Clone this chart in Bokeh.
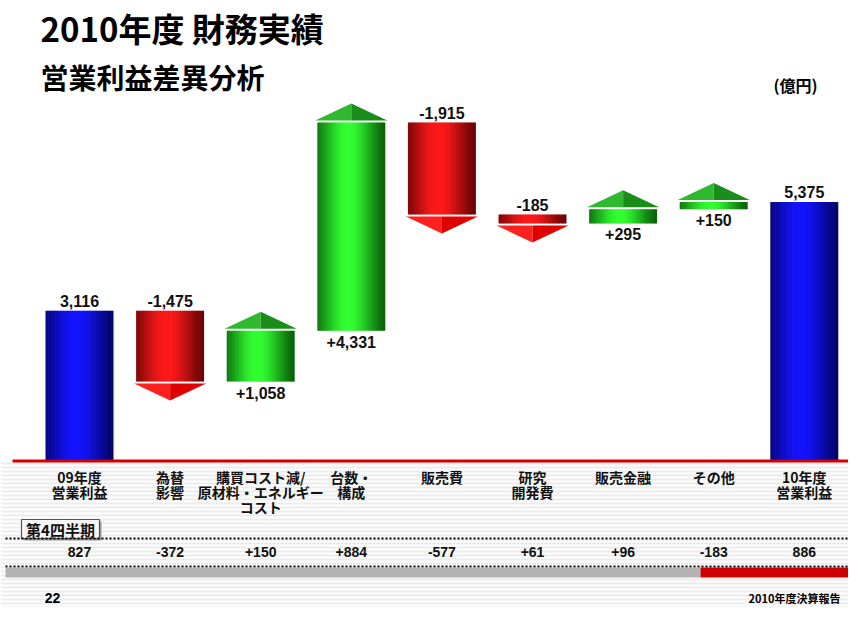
import math
from bokeh.plotting import figure
from bokeh.models import Range1d
from bokeh.core.properties import value
from bokeh.embed import file_html
from bokeh.resources import INLINE

# ---------------- data ----------------
title_text = "2010年度 財務実績"
subtitle_text = "営業利益差異分析"
unit_text = "(億円)"
categories = ["09年度\n営業利益", "為替\n影響", "購買コスト減/\n原材料・エネルギー\nコスト",
              "台数・\n構成", "販売費", "研究\n開発費", "販売金融", "その他", "10年度\n営業利益"]
values = [3116, -1475, 1058, 4331, -1915, -185, 295, 150, 5375]
is_total = [True, False, False, False, False, False, False, False, True]
quarter_label = "第4四半期"
quarter_values = [827, -372, 150, 884, -577, 61, 96, -183, 886]
page_number = "22"
footer_text = "2010年度決算報告"

# ---------------- geometry helpers ----------------
W, H = 848, 607
PX = 20.8          # data units per pixel (vertical)
BASE_Y = 460       # baseline position in pixels
CX0, DX = 79, 90.6 # first category centre / spacing in pixels


def xd(ix):
    return (ix - CX0) / DX


def yd(iy):
    return (BASE_Y - iy) * PX


CJK = value("Noto Sans CJK JP")
LAT = value("Liberation Sans")

p = figure(width=W, height=H, x_range=Range1d(xd(0), xd(W)),
           y_range=Range1d(yd(H), yd(0)), output_backend="svg",
           toolbar_location=None, min_border=0, x_axis_type=None, y_axis_type=None,
           outline_line_color=None, background_fill_color="white",
           border_fill_color="white")
p.grid.visible = False

# striped lower background
stripe_y = [yd(iy) for iy in range(463, H + 2, 4)]
p.segment(x0=[xd(0)] * len(stripe_y), x1=[xd(W)] * len(stripe_y),
          y0=stripe_y, y1=stripe_y, line_color="#ececec", line_width=2)

# ---------------- waterfall geometry from data ----------------
starts, ends = [], []
running = 0
for v, tot in zip(values, is_total):
    if tot:
        starts.append(0)
        ends.append(v)
        running = v
    else:
        starts.append(running)
        running = running + v
        ends.append(running)

bw = 68 / DX
NSTRIP = 28

PALETTES = {
    "total": ((0, 0, 70), (20, 20, 255)),
    "neg": ((70, 0, 0), (255, 25, 25)),
    "pos": ((0, 60, 0), (50, 255, 50)),
}


def grad_color(kind, t):
    dark, bright = PALETTES[kind]
    f = math.exp(-((t - 0.45) / 0.42) ** 2)
    c = [int(d + (b - d) * f) for d, b in zip(dark, bright)]
    return "#%02x%02x%02x" % tuple(c)


L, R, B, T, C = [], [], [], [], []
kinds = []
for i, (s, e, tot) in enumerate(zip(starts, ends, is_total)):
    kind = "total" if tot else ("pos" if e >= s else "neg")
    kinds.append(kind)
    lo, hi = min(s, e), max(s, e)
    left = i - bw / 2
    sw = bw / NSTRIP
    for k in range(NSTRIP):
        L.append(left + k * sw)
        R.append(left + (k + 1) * sw + (sw * 0.3 if k < NSTRIP - 1 else 0))
        B.append(lo)
        T.append(hi)
        C.append(grad_color(kind, (k + 0.5) / NSTRIP))
p.quad(left=L, right=R, bottom=B, top=T, fill_color=C, line_color=None)

# arrow heads
gap = 2 * PX
ah = 17 * PX
hw = bw / 2 + 2 / DX
xs, ys, fc = [], [], []
for i, (s, e, kind) in enumerate(zip(starts, ends, kinds)):
    if kind == "total":
        continue
    if kind == "neg":
        yb = e - gap
        yt = yb - ah
        cols = ("#ff2020", "#e00000")
    else:
        yb = e + gap
        yt = yb + ah
        cols = ("#30b830", "#1a8c1a")
    xs.append([i - hw, i, i]); ys.append([yb, yb, yt]); fc.append(cols[0])
    xs.append([i, i + hw, i]); ys.append([yb, yb, yt]); fc.append(cols[1])
p.patches(xs=xs, ys=ys, fill_color=fc, line_color=None)

# baseline
p.segment(x0=[xd(12)], x1=[xd(W)], y0=[yd(460.5)], y1=[yd(460.5)],
          line_color="#d40000", line_width=3)

# value labels
up_x, up_y, up_t, dn_x, dn_y, dn_t = [], [], [], [], [], []
for i, (v, s, e, tot) in enumerate(zip(values, starts, ends, is_total)):
    if tot:
        up_x.append(i); up_y.append(e + 4 * PX); up_t.append(f"{v:,}")
    elif v < 0:
        up_x.append(i); up_y.append(s + 4 * PX); up_t.append(f"{v:+,}")
    else:
        dn_x.append(i); dn_y.append(s - 5 * PX); dn_t.append(f"{v:+,}")
p.text(x=up_x, y=up_y, text=up_t, text_font=LAT, text_font_style="bold",
       text_font_size="16px", text_align="center", text_baseline="bottom",
       text_color="#111111")
p.text(x=dn_x, y=dn_y, text=dn_t, text_font=LAT, text_font_style="bold",
       text_font_size="16px", text_align="center", text_baseline="top",
       text_color="#111111")

# category labels
idx = list(range(len(categories)))
p.text(x=idx, y=[yd(466)] * len(idx), text=categories, text_font=CJK,
       text_font_style="bold", text_font_size="14px", text_align="center",
       text_baseline="top", text_line_height=0.76, text_color="#111111")

# quarter box
p.quad(left=[xd(23)], right=[xd(101)], top=[yd(521)], bottom=[yd(540)],
       fill_color="#9a9a9a", line_color=None)
p.quad(left=[xd(21)], right=[xd(99)], top=[yd(519)], bottom=[yd(538)],
       fill_color="#f6f6f6", line_color="#555555", line_width=1.2)
p.text(x=[xd(60)], y=[yd(529)], text=[quarter_label], text_font=CJK,
       text_font_style="bold", text_font_size="15px", text_align="center",
       text_baseline="middle", text_color="#111111")

# dotted separators
for yy in (538, 566):
    p.segment(x0=[xd(5)], x1=[xd(W)], y0=[yd(yy)], y1=[yd(yy)],
              line_color="#000000", line_width=2, line_dash="2 2")

# quarter values
q_text = [f"{v}" if tot else f"{v:+}" for v, tot in zip(quarter_values, is_total)]
p.text(x=idx, y=[yd(551)] * len(idx), text=q_text, text_font=LAT,
       text_font_style="bold", text_font_size="14px", text_align="center",
       text_baseline="middle", text_color="#111111")

# bottom bands
p.quad(left=[xd(5)], right=[xd(700)], top=[yd(567)], bottom=[yd(577)],
       fill_color="#b3b3b3", line_color=None)
p.quad(left=[xd(700)], right=[xd(W)], top=[yd(567)], bottom=[yd(577)],
       fill_color="#cc0000", line_color=None)

# titles & footer
p.text(x=[xd(40)], y=[yd(27)], text=[title_text], text_font=CJK, text_font_style="bold",
       text_font_size="33px", text_align="left", text_baseline="middle", text_color="#000000")
p.text(x=[xd(40)], y=[yd(76)], text=[subtitle_text], text_font=CJK, text_font_style="bold",
       text_font_size="28px", text_align="left", text_baseline="middle", text_color="#000000")
p.text(x=[xd(795)], y=[yd(84)], text=[unit_text], text_font=CJK, text_font_style="bold",
       text_font_size="16px", text_align="center", text_baseline="middle", text_color="#000000")
p.text(x=[xd(52)], y=[yd(597)], text=[page_number], text_font=LAT, text_font_style="bold",
       text_font_size="14px", text_align="center", text_baseline="middle", text_color="#000000")
p.text(x=[xd(840)], y=[yd(597)], text=[footer_text], text_font=CJK, text_font_style="bold",
       text_font_size="11px", text_align="right", text_baseline="middle", text_color="#000000")

open("out.html", "w").write(file_html(p, INLINE))
